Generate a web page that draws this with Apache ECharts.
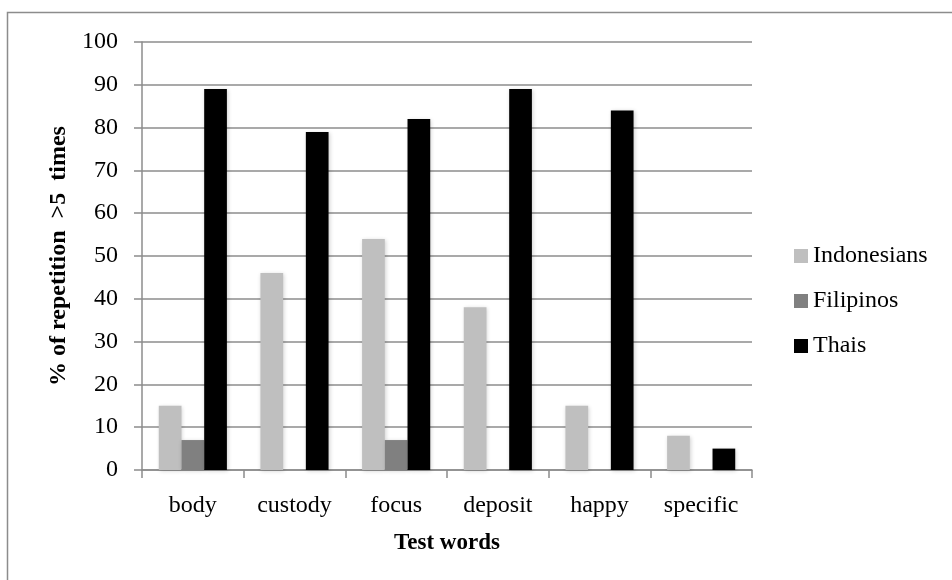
<!DOCTYPE html>
<html>
<head>
<meta charset="utf-8">
<script src="https://cdn.jsdelivr.net/npm/echarts@6/dist/echarts.min.js"></script>
<style>
html,body{margin:0;padding:0;background:#fff;}
#chart{width:952px;height:580px;}
</style>
</head>
<body>
<div id="chart"></div>
<script>
var categories = ['body', 'custody', 'focus', 'deposit', 'happy', 'specific'];
var seriesNames = ['Indonesians', 'Filipinos', 'Thais'];
var indonesians = [15, 46, 54, 38, 15, 8];
var filipinos = [7, 0, 7, 0, 0, 0];
var thais = [89, 79, 82, 89, 84, 5];
var yTicks = [0, 10, 20, 30, 40, 50, 60, 70, 80, 90, 100];

var colors = ['#bfbfbf', '#808080', '#000000'];
var font = '"Liberation Serif", "Times New Roman", serif';
var gray = '#8c8c8c';
var values = [indonesians, filipinos, thais];

var chart = echarts.init(document.getElementById('chart'));
chart.setOption({
  animation: false,
  backgroundColor: '#ffffff',
  textStyle: { fontFamily: font },
  graphic: [{
    type: 'rect',
    shape: { x: 7.5, y: 12.5, width: 1200, height: 1200 },
    style: { fill: 'none', stroke: gray, lineWidth: 1.5 },
    silent: true
  }],
  grid: { left: 142, right: 200, top: 42, bottom: 110, containLabel: false },
  legend: {
    orient: 'vertical',
    left: 794,
    top: 244,
    itemWidth: 14,
    itemHeight: 14,
    itemGap: 21,
    padding: 0,
    icon: 'rect',
    data: seriesNames,
    textStyle: { fontFamily: font, fontSize: 24, color: '#000' }
  },
  xAxis: {
    type: 'category',
    data: categories,
    name: 'Test words',
    nameLocation: 'middle',
    nameGap: 62,
    nameTextStyle: { fontFamily: font, fontSize: 23, fontWeight: 'bold', color: '#000' },
    axisLine: { lineStyle: { color: gray, width: 1.5 } },
    axisTick: { show: true, inside: false, length: 8, lineStyle: { color: gray, width: 1.5 } },
    axisLabel: { fontFamily: font, fontSize: 24, color: '#000', margin: 24 }
  },
  yAxis: {
    type: 'value',
    min: yTicks[0],
    max: yTicks[yTicks.length - 1],
    interval: yTicks[1] - yTicks[0],
    name: '% of repetition  >5  times',
    nameLocation: 'middle',
    nameGap: 65,
    nameRotate: 90,
    nameTextStyle: { fontFamily: font, fontSize: 24, fontWeight: 'bold', color: '#000' },
    axisLine: { show: true, lineStyle: { color: gray, width: 1.5 } },
    axisTick: { show: true, inside: false, length: 8, lineStyle: { color: gray, width: 1.5 } },
    axisLabel: { fontFamily: font, fontSize: 24, color: '#000', margin: 24 },
    splitLine: { show: true, lineStyle: { color: gray, width: 1.5 } }
  },
  series: seriesNames.map(function (n, i) {
    return {
      name: n,
      type: 'bar',
      data: values[i],
      barGap: '0%',
      barCategoryGap: '33%',
      itemStyle: {
        color: colors[i],
        shadowColor: 'rgba(0,0,0,0.18)',
        shadowBlur: 4,
        shadowOffsetX: 1,
        shadowOffsetY: 1
      }
    };
  })
});
</script>
</body>
</html>
